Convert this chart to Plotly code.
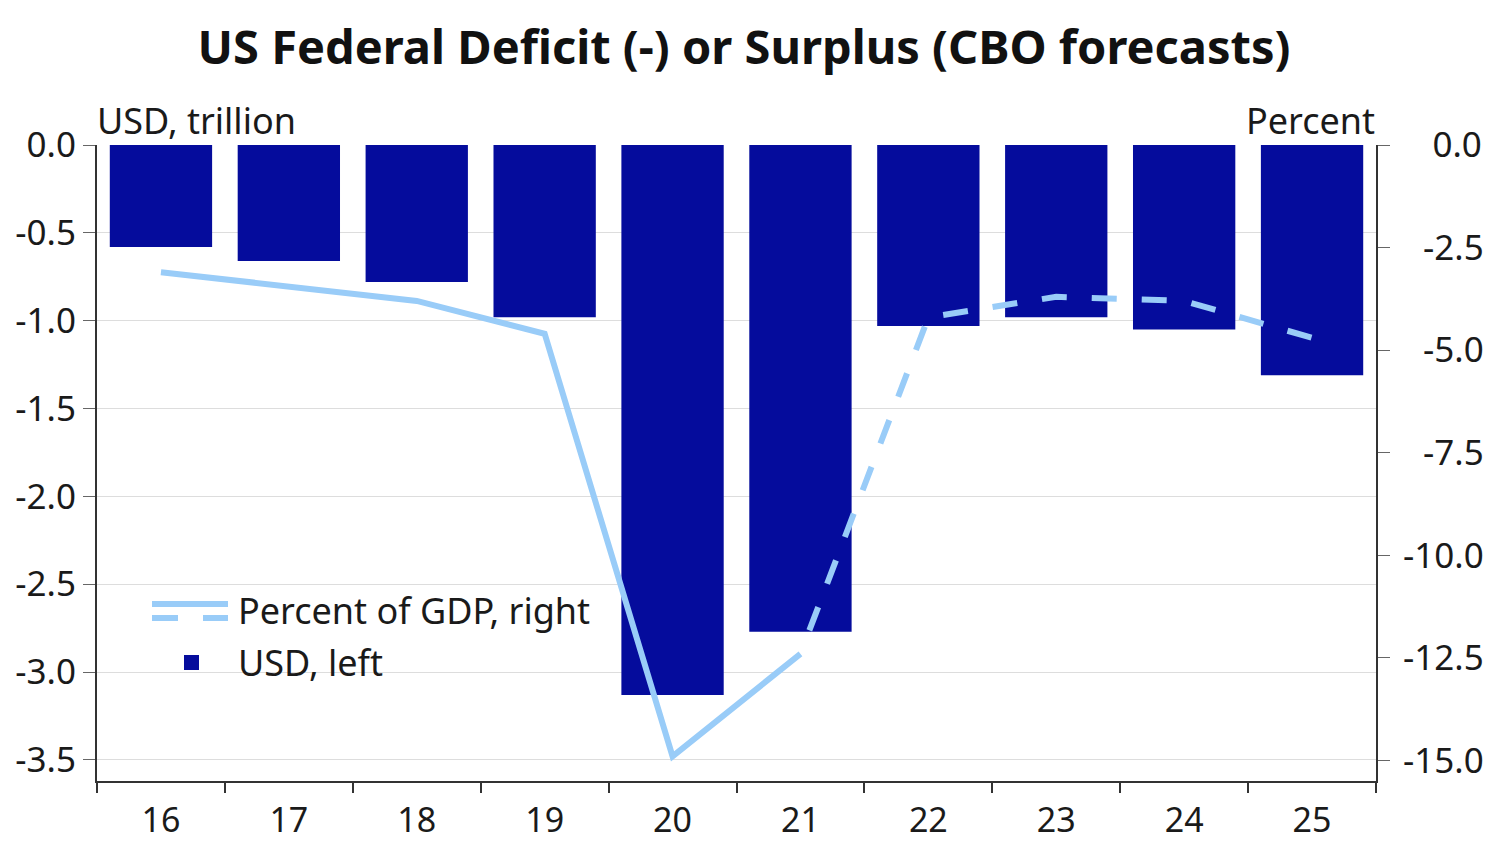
import plotly.graph_objects as go

years = ["16", "17", "18", "19", "20", "21", "22", "23", "24", "25"]
usd_trillion = [-0.58, -0.66, -0.78, -0.98, -3.13, -2.77, -1.03, -0.98, -1.05, -1.31]
pct_gdp_actual_years = ["16", "17", "18", "19", "20", "21"]
pct_gdp_actual = [-3.1, -3.45, -3.8, -4.6, -14.9, -12.4]
pct_gdp_fcst_years = ["21", "22", "23", "24", "25"]
pct_gdp_fcst = [-12.4, -4.2, -3.7, -3.8, -4.7]
left_ticks = [0, -0.5, -1.0, -1.5, -2.0, -2.5, -3.0, -3.5]
right_ticks = [0, -2.5, -5.0, -7.5, -10.0, -12.5, -15.0]

BAR = "#050C9C"
LINE = "#99CCF8"
FONT = "Noto Sans, Open Sans, sans-serif"
TXT = "#1a1a1a"

# page offset of the figure (body margin) and plot-area geometry
OFF = 8
L, T, W, H = 97, 145, 1279, 636


def px(x):
    return (x - L) / W


def py(y):
    return 1 - (y - T) / H


def pad_right(v):
    s = f"{v:.1f}"
    width_digits = len(s.replace("-", ""))
    pad = "\u2007" * (4 - width_digits)
    if not s.startswith("-"):
        pad += "\u2008"
    return pad + s


fig = go.Figure()
fig.add_trace(go.Bar(x=years, y=usd_trillion, marker=dict(color=BAR, line=dict(width=0)),
                     width=0.8, name="USD, left", yaxis="y", showlegend=False))
fig.add_trace(go.Scatter(x=pct_gdp_actual_years, y=pct_gdp_actual, mode="lines",
                         line=dict(color=LINE, width=6), yaxis="y2", showlegend=False,
                         name="Percent of GDP, right"))
fig.add_trace(go.Scatter(x=pct_gdp_fcst_years, y=pct_gdp_fcst, mode="lines",
                         line=dict(color=LINE, width=6, dash="0px,25px,25px,0px"), yaxis="y2",
                         name="Percent of GDP, right (forecast)", showlegend=False))

shapes = [
    # legend: line symbol (solid over dashed)
    dict(type="line", xref="paper", yref="paper", x0=px(152), x1=px(228), y0=py(604), y1=py(604),
         line=dict(color=LINE, width=6)),
    dict(type="line", xref="paper", yref="paper", x0=px(152), x1=px(178), y0=py(618), y1=py(618),
         line=dict(color=LINE, width=6)),
    dict(type="line", xref="paper", yref="paper", x0=px(203), x1=px(228), y0=py(618), y1=py(618),
         line=dict(color=LINE, width=6)),
    # legend: bar symbol
    dict(type="rect", xref="paper", yref="paper", x0=px(184), x1=px(199), y0=py(670), y1=py(655),
         fillcolor=BAR, line=dict(width=0)),
]

annotations = [
    dict(text="USD, trillion", x=px(95), xref="paper", xanchor="left", y=py(120), yref="paper",
         yanchor="middle", showarrow=False, font=dict(size=36, color=TXT)),
    dict(text="Percent", x=px(1377), xref="paper", xanchor="right", y=py(120), yref="paper",
         yanchor="middle", showarrow=False, font=dict(size=36, color=TXT)),
    dict(text="Percent of GDP, right", x=px(236), xref="paper", xanchor="left", y=py(610),
         yref="paper", yanchor="middle", showarrow=False, font=dict(size=36, color=TXT)),
    dict(text="USD, left", x=px(236), xref="paper", xanchor="left", y=py(662),
         yref="paper", yanchor="middle", showarrow=False, font=dict(size=36, color=TXT)),
]

fig.update_layout(
    width=1500, height=850,
    margin=dict(l=L - OFF, r=1500 - (L - OFF) - W, t=T - OFF, b=850 - (T - OFF) - H),
    paper_bgcolor="white", plot_bgcolor="white",
    font=dict(family=FONT, color=TXT, size=34),
    title=dict(text="<b>US Federal Deficit (-) or Surplus (CBO forecasts)</b>",
               x=(744 - OFF) / 1500, xanchor="center", y=1 - (48 - OFF) / 850, yanchor="middle",
               font=dict(size=47, color="#111", family=FONT)),
    showlegend=False,
    xaxis=dict(type="category", tickson="boundaries", ticks="outside", ticklen=10,
               tickwidth=2, tickcolor="#333", showline=True, linecolor="#333", linewidth=2,
               showgrid=False, tickfont=dict(size=34), range=[-0.5, 9.5],
               ticklabelstandoff=8, automargin=False),
    yaxis=dict(range=[-3.62, 0], tickvals=left_ticks, ticktext=[f"{v:.1f}" for v in left_ticks],
               ticks="outside", ticklen=12, tickwidth=1, tickcolor="#666",
               showline=True, linecolor="#333", linewidth=2, showgrid=True,
               gridcolor="#dddddd", gridwidth=1, zeroline=False, tickfont=dict(size=35),
               automargin=False),
    yaxis2=dict(range=[-15.5, 0], overlaying="y", side="right",
                tickvals=right_ticks, ticktext=[pad_right(v) for v in right_ticks],
                ticks="outside", ticklen=12, tickwidth=1, tickcolor="#666",
                showline=True, linecolor="#333", linewidth=2, showgrid=False,
                zeroline=False, tickfont=dict(size=35), ticklabelstandoff=6,
                automargin=False),
    shapes=shapes,
    annotations=annotations,
)

fig.write_html("out.html")
